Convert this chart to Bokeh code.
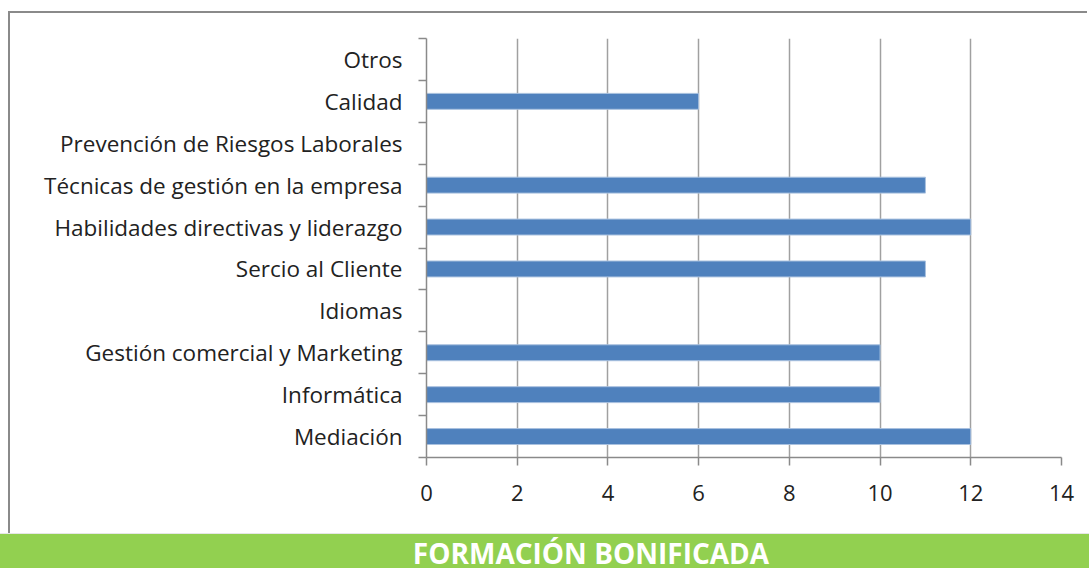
from bokeh.plotting import figure
from bokeh.models import FixedTicker, ColumnDataSource, Div
from bokeh.layouts import column
from bokeh.embed import file_html
from bokeh.resources import INLINE

categories = ["Mediación", "Informática", "Gestión comercial y Marketing", "Idiomas",
              "Sercio al Cliente", "Habilidades directivas y liderazgo",
              "Técnicas de gestión en la empresa", "Prevención de Riesgos Laborales",
              "Calidad", "Otros"]
values = [12, 10, 10, 0, 11, 12, 11, 0, 6, 0]
x_ticks = [0, 2, 4, 6, 8, 10, 12, 14]
title = "FORMACIÓN BONIFICADA"

FONT = "Open Sans"
# figure sits inside an outer frame (margin 8 left / 11 top + 2px border)
W, H = 1079, 522

p = figure(width=W, height=H, x_range=(0, 14), y_range=(0, len(categories)),
           output_backend="svg", toolbar_location=None,
           min_border_left=416, min_border_right=28, min_border_top=25, min_border_bottom=78)
p.outline_line_color = None
p.background_fill_color = "white"
p.border_fill_color = "white"
p.margin = (11, 0, 0, 8)
p.styles = {"border-top": "2px solid #8a8a8a", "border-left": "2px solid #8a8a8a"}

centers = [i + 0.5 for i in range(len(categories))]
src = ColumnDataSource(dict(y=centers, v=values))
p.hbar(y="y", right="v", left=0, height=0.38, source=src,
       fill_color="#4F81BD", line_color="#a9c1df", line_width=1)

# x axis
xa = p.xaxis[0]
xa.ticker = FixedTicker(ticks=x_ticks)
xa.axis_line_color = "#8a8a8a"
xa.axis_line_width = 1.5
xa.major_tick_line_color = "#8a8a8a"
xa.major_tick_line_width = 1.5
xa.major_tick_out = 8
xa.major_tick_in = 0
xa.minor_tick_line_color = None
xa.major_label_text_font = FONT
xa.major_label_text_font_size = "22px"
xa.major_label_text_color = "#222222"
xa.major_label_standoff = 19

# y axis
ya = p.yaxis[0]
ya.ticker = FixedTicker(ticks=centers, minor_ticks=list(range(len(categories) + 1)))
ya.major_label_overrides = {c: cat for c, cat in zip(centers, categories)}
ya.axis_line_color = "#8a8a8a"
ya.axis_line_width = 1.5
ya.major_tick_line_color = None
ya.major_tick_out = 0
ya.major_tick_in = 0
ya.minor_tick_line_color = "#8a8a8a"
ya.minor_tick_line_width = 1.5
ya.minor_tick_out = 8
ya.minor_tick_in = 0
ya.major_label_text_font = FONT
ya.major_label_text_font_size = "22.5px"
ya.major_label_text_color = "#222222"
ya.major_label_standoff = 16

p.xgrid.ticker = FixedTicker(ticks=x_ticks)
p.xgrid.grid_line_color = "#a0a0a0"
p.xgrid.grid_line_width = 1.5
p.ygrid.grid_line_color = None

banner = Div(text=("<div style='width:1089px;height:35px;display:flex;align-items:flex-start;"
                   "justify-content:center;box-sizing:border-box;padding-left:93px;padding-top:4px;"
                   "line-height:31px;"
                   "font-family:\"Open Sans\";font-weight:bold;font-size:28px;color:white;'>"
                   + title + "</div>"),
             width=1089, height=35, margin=0,
             styles={"background-color": "#92D050", "border-top": "1px solid #e6e6e6"})

layout = column(p, banner, spacing=0)
open("out.html", "w").write(file_html(layout, INLINE))
